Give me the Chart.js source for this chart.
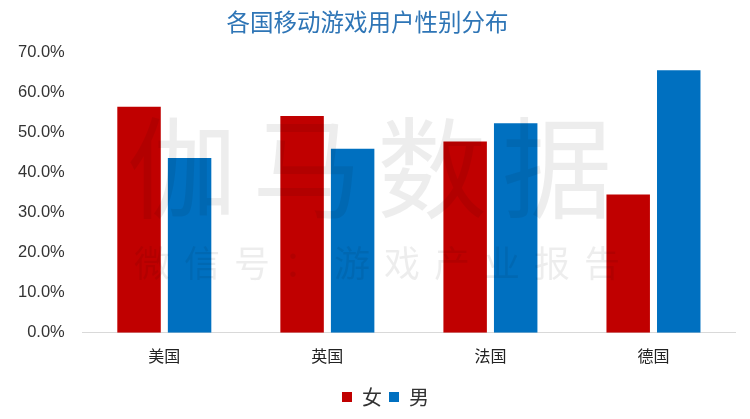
<!DOCTYPE html>
<html lang="zh">
<head>
  <meta charset="UTF-8" />
  <title>各国移动游戏用户性别分布</title>
  <script src="https://cdn.jsdelivr.net/npm/chart.js"></script>
  <style>
    * { box-sizing: border-box; }
    html, body { margin: 0; padding: 0; background: #fff; }
    #wrap { width: 750px; height: 419px; position: relative; }
  </style>
</head>
<body>
  <div id="wrap"><canvas id="genderChart"></canvas></div>

  <script>
    const countries = ["美国", "英国", "法国", "德国"];
    const female = [56.4, 54.1, 47.7, 34.5];
    const male = [43.6, 45.9, 52.3, 65.5];
    const yTicks = [0, 10, 20, 30, 40, 50, 60, 70];

    const CJK = "'Microsoft YaHei', 'Noto Sans CJK SC', sans-serif";

    // faint "伽马数据" watermark, drawn over the bars like the original
    const watermark = {
      id: "watermark",
      afterDatasetsDraw(chart) {
        const ctx = chart.ctx;
        ctx.save();
        ctx.fillStyle = "rgba(0,0,0,0.07)";
        ctx.textAlign = "center";
        ctx.textBaseline = "middle";
        ctx.font = "110px " + CJK;
        const big = ["伽", "马", "数", "据"];
        big.forEach((c, i) => ctx.fillText(c, 182 + i * 125, 168));
        ctx.font = "36px " + CJK;
        const small = ["微", "信", "号", "：", "游", "戏", "产", "业", "报", "告"];
        small.forEach((c, i) => ctx.fillText(c, 152 + i * 50, 263));
        ctx.restore();
      }
    };

    // legend in the original sits a bit right of centre
    const legendShift = {
      id: "legendShift",
      afterLayout(chart) {
        chart.legend.left += 18;
        chart.legend.right += 18;
      }
    };

    new Chart(document.getElementById("genderChart"), {
      type: "bar",
      data: {
        labels: countries,
        datasets: [
          { label: "女", data: female, backgroundColor: "#c00000" },
          { label: "男", data: male, backgroundColor: "#0070c0" }
        ]
      },
      options: {
        responsive: true,
        maintainAspectRatio: false,
        animation: false,
        layout: { padding: { left: 0, right: 15, top: 0, bottom: 2 } },
        datasets: {
          bar: { categoryPercentage: 0.62, barPercentage: 0.86 }
        },
        plugins: {
          title: {
            display: true,
            text: "各国移动游戏用户性别分布",
            color: "#2e75b6",
            font: { family: CJK, size: 23.5, weight: "normal" },
            padding: { top: 8, bottom: 16 }
          },
          legend: {
            position: "bottom",
            labels: {
              color: "#333",
              boxWidth: 10,
              boxHeight: 10,
              padding: 7,
              font: { family: CJK, size: 20 }
            }
          },
          tooltip: { enabled: false }
        },
        scales: {
          x: {
            grid: { display: false, drawTicks: false },
            border: { color: "#d9d9d9" },
            ticks: { color: "#222", padding: 14, font: { family: CJK, size: 16 } }
          },
          y: {
            min: 0,
            max: 70,
            afterBuildTicks(axis) { axis.ticks = yTicks.map(v => ({ value: v })); },
            grid: { display: false, drawTicks: false },
            border: { display: false },
            ticks: {
              color: "#333",
              padding: 18,
              font: { family: "'Liberation Sans', Arial, sans-serif", size: 16.5 },
              callback: v => v.toFixed(1) + "%"
            }
          }
        }
      },
      plugins: [watermark, legendShift]
    });
  </script>
</body>
</html>
